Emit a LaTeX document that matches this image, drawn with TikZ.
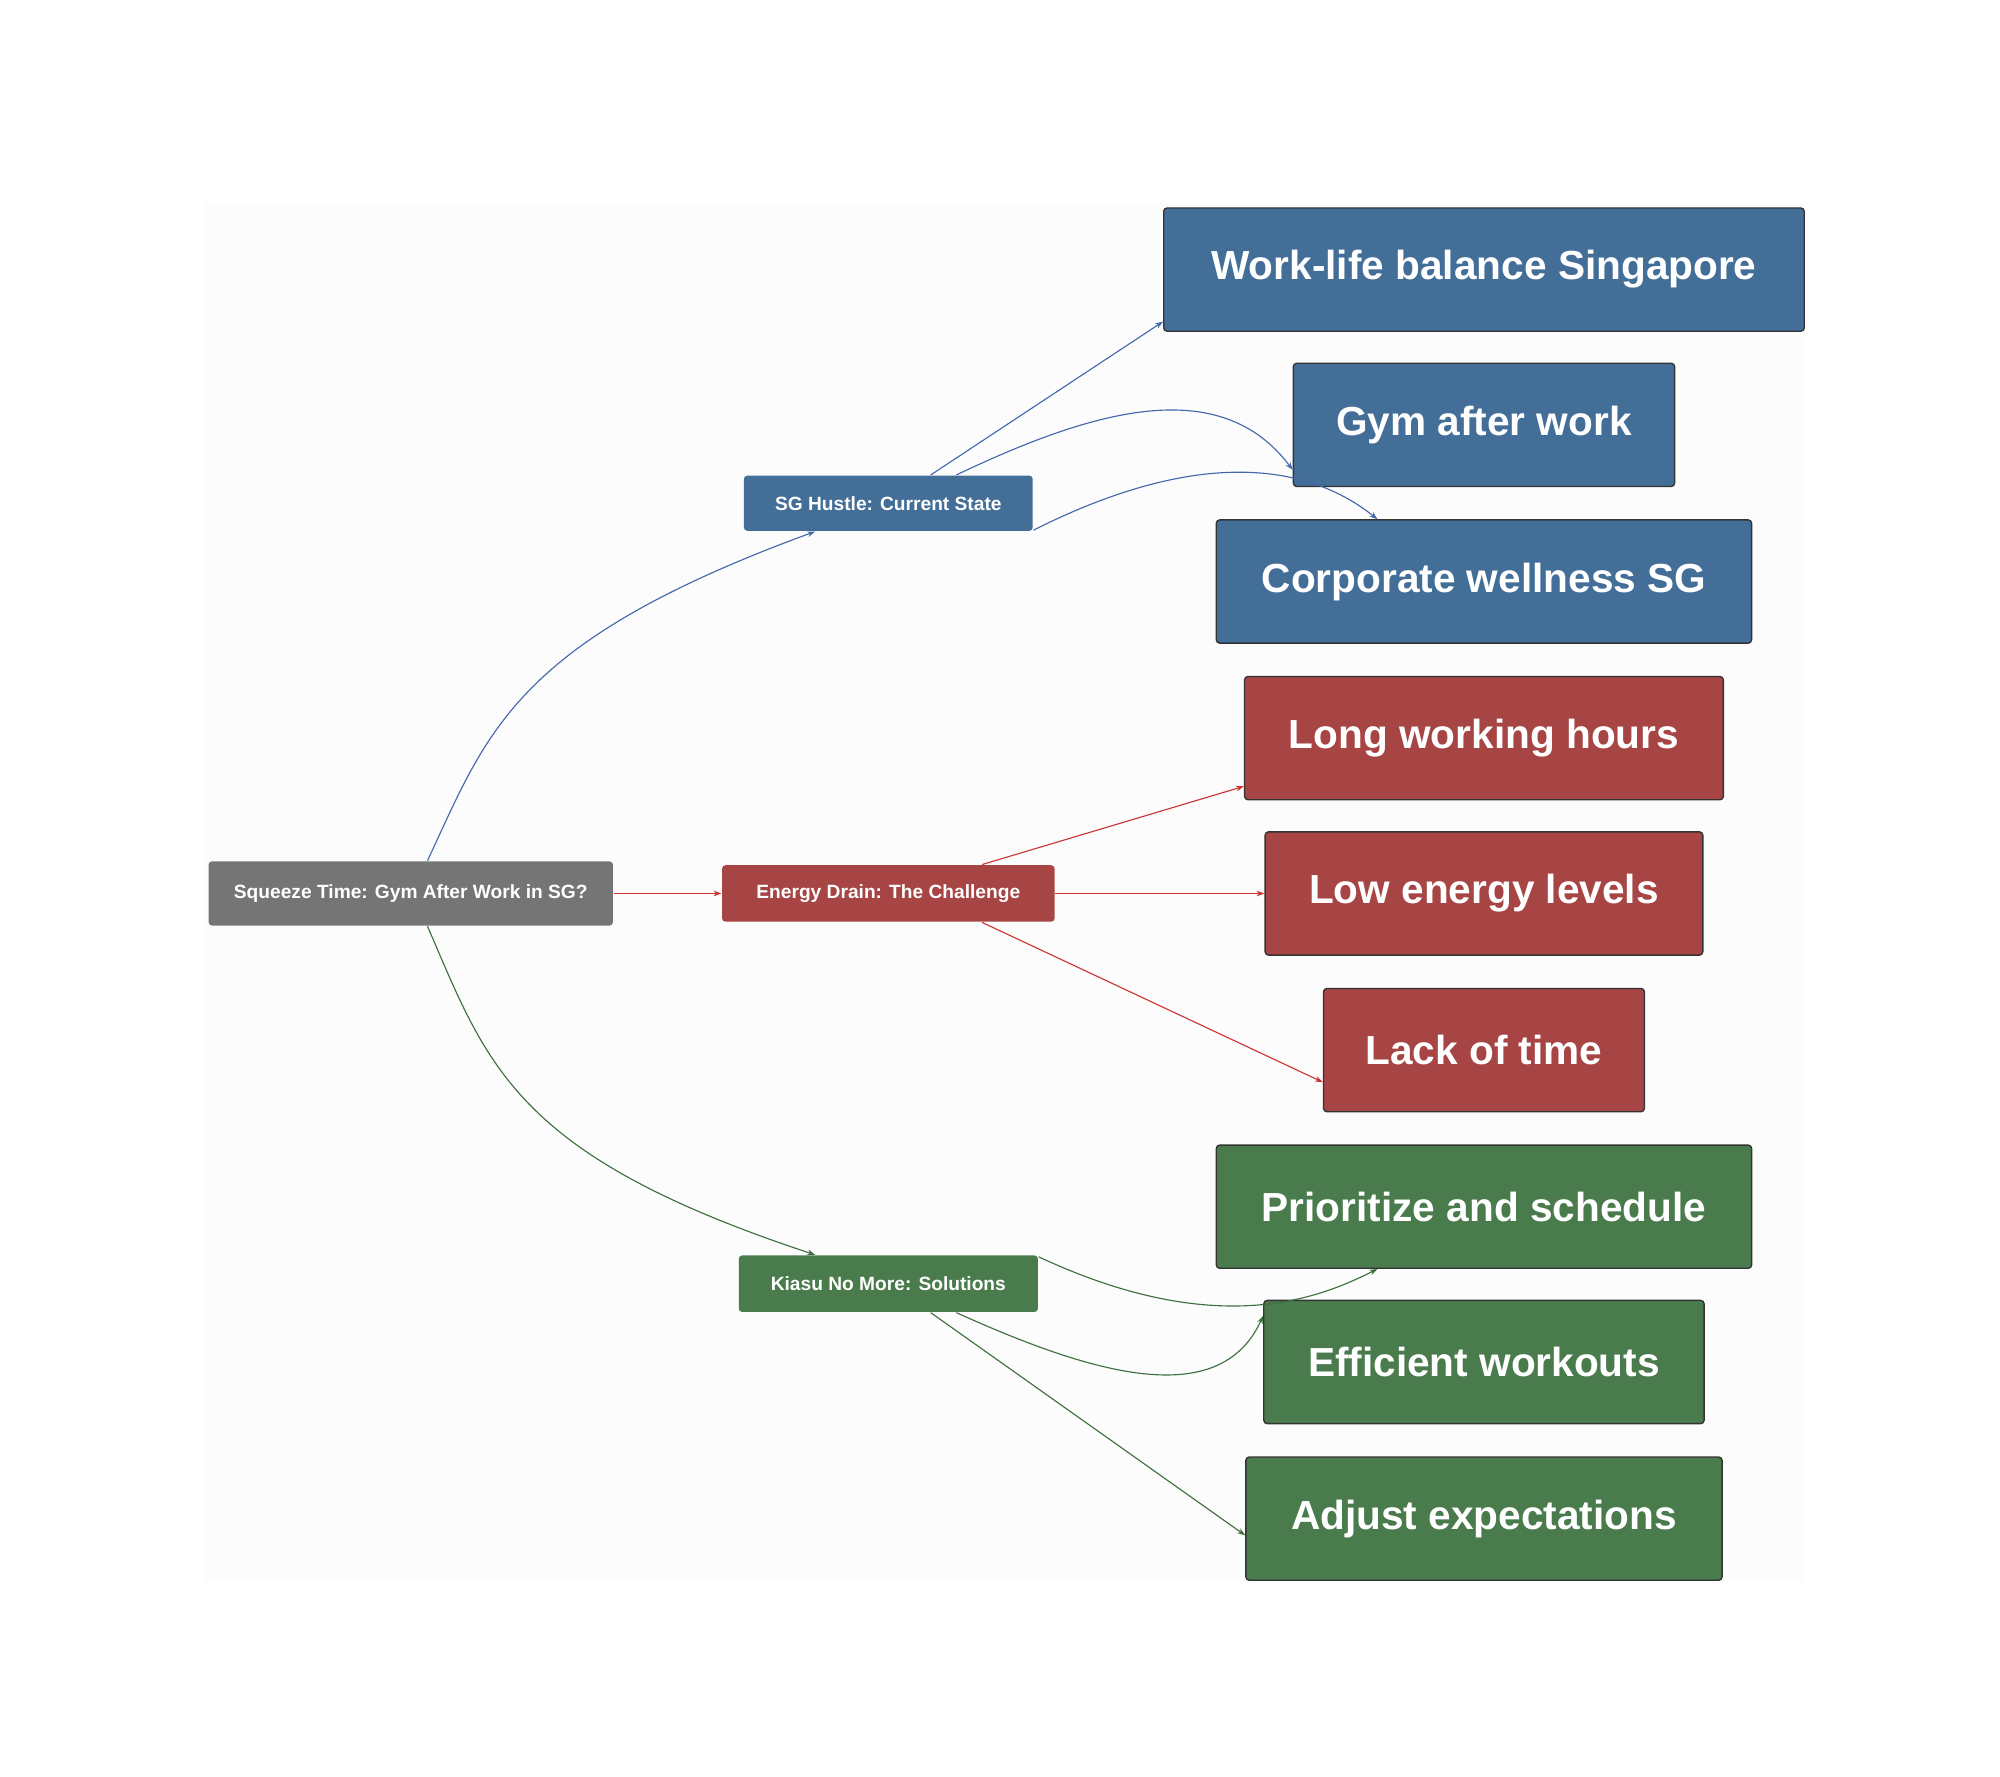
\documentclass[tikz,border=0pt]{standalone}
\usepackage{fontspec}
\setmainfont{Liberation Sans}
\usetikzlibrary{arrows.meta}
\definecolor{cb}{HTML}{436E98}
\definecolor{cr}{HTML}{A74444}
\definecolor{cg}{HTML}{497B4D}
\definecolor{cgr}{HTML}{757575}
\definecolor{eb}{HTML}{4466AA}
\definecolor{er}{HTML}{CC3333}
\definecolor{eg}{HTML}{3E6E3E}
\tikzset{
 box/.style={draw=black!80,line width=0.6pt,rounded corners=1.5pt,text=white,font=\bfseries,anchor=center,inner sep=0pt},
 small/.style={box,font=\bfseries\fontsize{8.5}{10}\selectfont,draw=none},
 big/.style={box,font=\bfseries\fontsize{18}{21}\selectfont},
 ed/.style={line width=0.5pt,-{Stealth[length=3.5pt,width=2.5pt]}}
}
\begin{document}
\begin{tikzpicture}[x=0.02cm,y=-0.02cm]
\useasboundingbox[fill=white] (0,0) rectangle (1558,1384);
\fill[black!1] (160,158) rectangle (1405,1232);
\node[small,fill=cgr,minimum width=315*0.02cm,minimum height=50*0.02cm] (root) at (320,696) {Squeeze Time: Gym After Work in SG?};
\node[small,fill=cb,minimum width=225*0.02cm,minimum height=43*0.02cm] (sg) at (692,392) {SG Hustle: Current State};
\node[small,fill=cr,minimum width=259*0.02cm,minimum height=44*0.02cm] (en) at (692,696) {Energy Drain: The Challenge};
\node[small,fill=cg,minimum width=233*0.02cm,minimum height=44*0.02cm] (ki) at (692,1000) {Kiasu No More: Solutions};
\node[big,fill=cb,minimum width=499*0.02cm,minimum height=96*0.02cm] (wl) at (1156,210) {Work-life balance Singapore};
\node[big,fill=cb,minimum width=297*0.02cm,minimum height=96*0.02cm] (gy) at (1156,331) {Gym after work};
\node[big,fill=cb,minimum width=417*0.02cm,minimum height=96*0.02cm] (co) at (1156,453) {Corporate wellness SG};
\node[big,fill=cr,minimum width=373*0.02cm,minimum height=96*0.02cm] (lo) at (1156,575) {Long working hours};
\node[big,fill=cr,minimum width=341*0.02cm,minimum height=96*0.02cm] (le) at (1156,696) {Low energy levels};
\node[big,fill=cr,minimum width=250*0.02cm,minimum height=96*0.02cm] (la) at (1156,818) {Lack of time};
\node[big,fill=cg,minimum width=417*0.02cm,minimum height=96*0.02cm] (pr) at (1156,940) {Prioritize and schedule};
\node[big,fill=cg,minimum width=343*0.02cm,minimum height=96*0.02cm] (ef) at (1156,1061) {Efficient workouts};
\node[big,fill=cg,minimum width=371*0.02cm,minimum height=96*0.02cm] (ad) at (1156,1183) {Adjust expectations};
% root edges
\draw[ed,eb] ([xshift=13*0.02cm]root.north) .. controls (380,570) and (400,500) .. ([xshift=-57*0.02cm]sg.south);
\draw[ed,er] (root.east) -- (en.west);
\draw[ed,eg] ([xshift=13*0.02cm]root.south) .. controls (380,830) and (400,900) .. ([xshift=-57*0.02cm]ki.north);
% sg
\draw[ed,eb] ([xshift=33*0.02cm]sg.north) -- ([yshift=8*0.02cm]wl.south west);
\draw[ed,eb] ([xshift=53*0.02cm]sg.north) .. controls (850,320) and (950,290) .. ([yshift=-35*0.02cm]gy.west);
\draw[ed,eb] ([yshift=-21*0.02cm]sg.east) .. controls (950,340) and (1030,370) .. ([xshift=-83*0.02cm]co.north);
% en
\draw[ed,er] ([xshift=73*0.02cm]en.north) -- ([yshift=11*0.02cm]lo.south west);
\draw[ed,er] (en.east) -- (le.west);
\draw[ed,er] ([xshift=73*0.02cm]en.south) -- ([yshift=-25*0.02cm]la.west);
% ki
\draw[ed,eg] ([yshift=21*0.02cm]ki.east) .. controls (950,1045) and (1030,1010) .. ([xshift=-83*0.02cm]pr.south);
\draw[ed,eg] ([xshift=53*0.02cm]ki.south) .. controls (850,1070) and (950,1100) .. ([yshift=36*0.02cm]ef.west);
\draw[ed,eg] ([xshift=33*0.02cm]ki.south) -- ([yshift=-13*0.02cm]ad.west);
\end{tikzpicture}
\end{document}
